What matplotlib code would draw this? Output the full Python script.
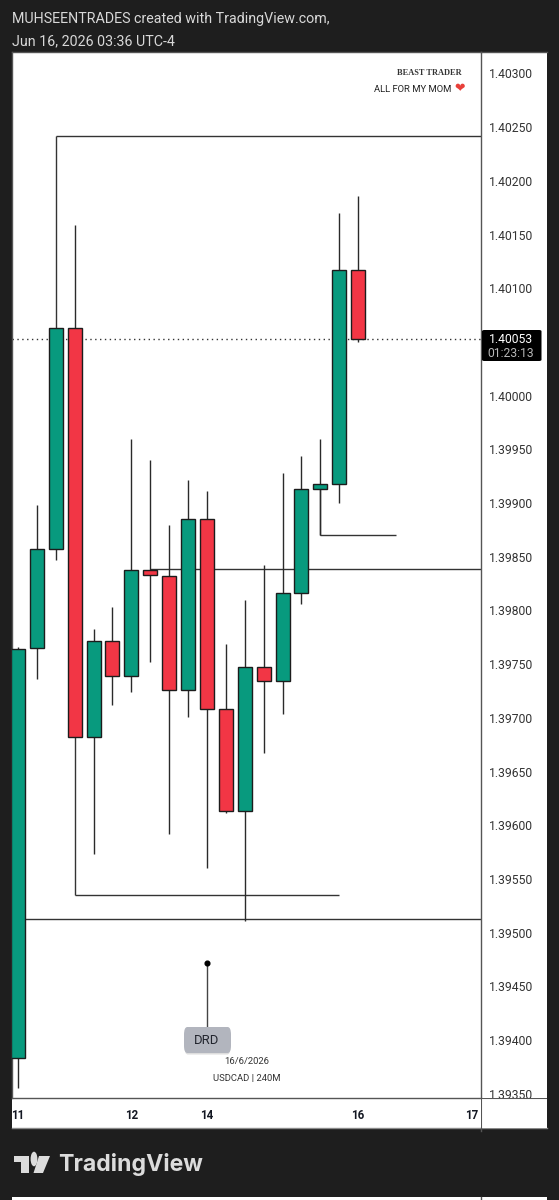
import matplotlib
matplotlib.use("Agg")
import matplotlib.pyplot as plt
from matplotlib.patches import Polygon, Circle, Rectangle, FancyBboxPatch

W, H = 559, 1200

# candles, 4h USDCAD
opens = [1.39383, 1.39765, 1.39857, 1.40063, 1.39682, 1.39772, 1.39739, 1.39838, 1.39832, 1.39726,
         1.39885, 1.39708, 1.39613, 1.39747, 1.39734, 1.39816, 1.39913, 1.39918, 1.40117]
closes = [1.39764, 1.39857, 1.40063, 1.39682, 1.39772, 1.39739, 1.39838, 1.39833, 1.39726, 1.39885,
          1.39708, 1.39613, 1.39747, 1.39734, 1.39816, 1.39913, 1.39918, 1.40117, 1.40053]
highs = [1.39766, 1.39898, 1.40063, 1.40159, 1.39783, 1.39803, 1.39960, 1.39940, 1.39880, 1.39921,
         1.39911, 1.39769, 1.39810, 1.39842, 1.39928, 1.39944, 1.39960, 1.40170, 1.40186]
lows = [1.39355, 1.39736, 1.39847, 1.39682, 1.39573, 1.39712, 1.39724, 1.39752, 1.39592, 1.39701,
        1.39560, 1.39611, 1.39511, 1.39667, 1.39704, 1.39806, 1.39870, 1.39900, 1.40050]

price_ticks = [1.40300, 1.40250, 1.40200, 1.40150, 1.40100, 1.40000, 1.39950, 1.39900, 1.39850, 1.39800,
               1.39750, 1.39700, 1.39650, 1.39600, 1.39550, 1.39500, 1.39450, 1.39400, 1.39350]
time_ticks = [0, 6, 10, 18, 24]
time_labels = ["11", "12", "14", "16", "17"]
last_price = 1.40053

# drawn lines: (x0, x1, price)
hlines = [(2, 24.5, 1.40242), (3, 17, 1.39535), (0, 24.5, 1.39513), (7, 24.5, 1.39839), (16, 20, 1.39870)]
# drawn verticals: (x, price0, price1)
vlines = [(2, 1.40063, 1.40242), (3, 1.39682, 1.39535), (16, 1.39913, 1.39870)]
drd_x, drd_top, drd_box = 10, 1.39472, 1.39400

BG = "#1e1e1e"
GREEN = "#089a7e"
RED = "#f23645"
EDGE = "#1c1c1c"
LINE = "#555555"
plt.rcParams["font.family"] = ["Roboto", "DejaVu Sans"]


def axes_px(fig, l, t, r, b, **kw):
    return fig.add_axes([l / W, 1 - b / H, (r - l) / W, (b - t) / H], **kw)


fig = plt.figure(figsize=(W / 100, H / 100), dpi=100, facecolor=BG)

# white panel behind price scale and time scale
fig.patches.append(Rectangle((12 / W, 1 - 1128 / H), 534.5 / W, 1076 / H, transform=fig.transFigure,
                             facecolor="white", edgecolor="none", zorder=-1))

ax = axes_px(fig, 12, 52, 481, 1098)
ax.set_xlim(-0.317, 24.5)
ax.set_ylim(1.39346, 1.40320)
ax.set_yticks(price_ticks)
ax.set_yticklabels(["%.5f" % p for p in price_ticks], fontsize=8.7, color="#333333")
ax.yaxis.tick_right()
ax.tick_params(axis="y", length=0, pad=6)
ax.set_xticks(time_ticks)
ax.set_xticklabels(time_labels, fontsize=8.3, fontweight="bold", color="#131722")
ax.tick_params(axis="x", length=0, pad=8)
for s in ax.spines.values():
    s.set_color(LINE)
    s.set_linewidth(1)

# drawings
for x0, x1, p in hlines:
    ax.plot([x0, x1], [p, p], color="#333333", lw=1, zorder=1, solid_capstyle="butt")
for x, p0, p1 in vlines:
    ax.plot([x, x], [p0, p1], color="#333333", lw=1, zorder=1, solid_capstyle="butt")

ax.axhline(last_price, color="#333333", lw=1, ls=(0, (1, 2.5)), zorder=1)

# candles
for i in range(len(opens)):
    c = GREEN if closes[i] >= opens[i] else RED
    ax.plot([i, i], [lows[i], highs[i]], color="#2a2a2a", lw=1, zorder=2, solid_capstyle="butt")
    bottom = min(opens[i], closes[i])
    ax.bar(i, abs(closes[i] - opens[i]), 0.74, bottom=bottom, color=c, edgecolor=EDGE, linewidth=1, zorder=3)

# DRD callout
ax.plot([drd_x, drd_x], [drd_top, drd_box], color="#444444", lw=1, zorder=2)
ax.plot([drd_x], [drd_top], "o", color="black", ms=3.4, zorder=4)
shadow = FancyBboxPatch((184.5 / W, 1 - 1054.5 / H), 46 / W, 25 / H, boxstyle="round,pad=0,rounding_size=0.006",
                        transform=fig.transFigure, facecolor="#dddddd", edgecolor="none", mutation_aspect=H / W * 0.5)
box = FancyBboxPatch((184 / W, 1 - 1053 / H), 47 / W, 26 / H, boxstyle="round,pad=0,rounding_size=0.006",
                     transform=fig.transFigure, facecolor="#b2b5be", edgecolor="none", mutation_aspect=H / W * 0.5)
fig.patches.extend([shadow, box])
shadow.set_zorder(5)
box.set_zorder(6)
fig.text(207 / W, 1 - 1040 / H, "DRD", ha="center", va="center", fontsize=9.4, color="#22252e", zorder=7)

# small texts on the chart
fig.text(462 / W, 1 - 73 / H, "BEAST TRADER", ha="right", va="center", fontsize=6, fontweight="bold",
         family="Liberation Serif", color="#333333")
fig.text(451 / W, 1 - 89 / H, "ALL FOR MY MOM", ha="right", va="center", fontsize=6.8, color="#222222")
fig.text(454 / W, 1 - 88.5 / H, "\u2764", ha="left", va="center", fontsize=9, color="#e8403a", family="DejaVu Sans")
fig.text(247 / W, 1 - 1061 / H, "16/6/2026", ha="center", va="center", fontsize=6.8, color="#333333")
fig.text(247 / W, 1 - 1078 / H, "USDCAD | 240M", ha="center", va="center", fontsize=6.8, color="#333333")

# last price tag
tag = axes_px(fig, 482, 330, 541.5, 361, zorder=5)
tag.axis("off")
tag.add_patch(FancyBboxPatch((0, 0), 1, 1, boxstyle="round,pad=0,rounding_size=0.04", facecolor="black",
                             edgecolor="none", transform=tag.transAxes, clip_on=False))
tag.text(0.49, 0.69, "%.5f" % last_price, ha="center", va="center", fontsize=8.7, color="white", transform=tag.transAxes)
tag.text(0.49, 0.24, "01:23:13", ha="center", va="center", fontsize=8.7, color="#b8b8b8", transform=tag.transAxes)

# corner below the price scale, hides the cut 1.39350 label
corner = axes_px(fig, 481, 1098, 546.5, 1128, zorder=4)
corner.set_xticks([])
corner.set_yticks([])
for s in corner.spines.values():
    s.set_visible(False)
corner.axhline(1, color=LINE, lw=1.5)
corner.axvline(0, color=LINE, lw=1.5)
fig.add_artist(plt.Line2D([481 / W, 546.5 / W], [1 - 52 / H, 1 - 52 / H], color=LINE, lw=1))
fig.add_artist(plt.Line2D([12 / W, 546.5 / W], [1 - 1128 / H, 1 - 1128 / H], color="#8a8a8a", lw=1))
fig.add_artist(plt.Line2D([481 / W, 481 / W], [1 - 1128 / H, 1 - 1131 / H], color=LINE, lw=1))

# header
fig.text(12 / W, 1 - 19 / H, "MUHSEENTRADES created with TradingView.com,", ha="left", va="center", fontsize=10.25, color="#d8d8d8")
fig.text(12 / W, 1 - 41 / H, "Jun 16, 2026 03:36 UTC-4", ha="left", va="center", fontsize=10.25, color="#d8d8d8")

# tradingview logo
px = lambda x, y: (x / W, 1 - y / H)
logo = "#dcdcdc"
fig.patches.append(Polygon([px(14, 1156), px(28.5, 1156), px(28.5, 1173), px(20.5, 1173), px(20.5, 1162), px(14, 1162)],
                           transform=fig.transFigure, facecolor=logo, edgecolor="none"))
fig.patches.append(Polygon([px(39, 1156), px(50, 1156), px(43, 1173), px(33.5, 1173)],
                           transform=fig.transFigure, facecolor=logo, edgecolor="none"))
fig.patches.append(Circle(px(34, 1159), 3.4 / W, transform=fig.transFigure, facecolor=logo, edgecolor="none"))
fig.text(58 / W, 1 - 1165 / H, "TradingView", ha="left", va="center", fontsize=16.6, fontweight="bold",
         family="Inter", color=logo)

# start of the next screenshot strip
fig.patches.append(Rectangle((12 / W, 0), 534.5 / W, 3 / H, transform=fig.transFigure, facecolor="white", edgecolor="none"))
fig.add_artist(plt.Line2D([481 / W, 481 / W], [0, 3 / H], color=LINE, lw=1))

fig.savefig("out.png", dpi=100, facecolor=BG)
